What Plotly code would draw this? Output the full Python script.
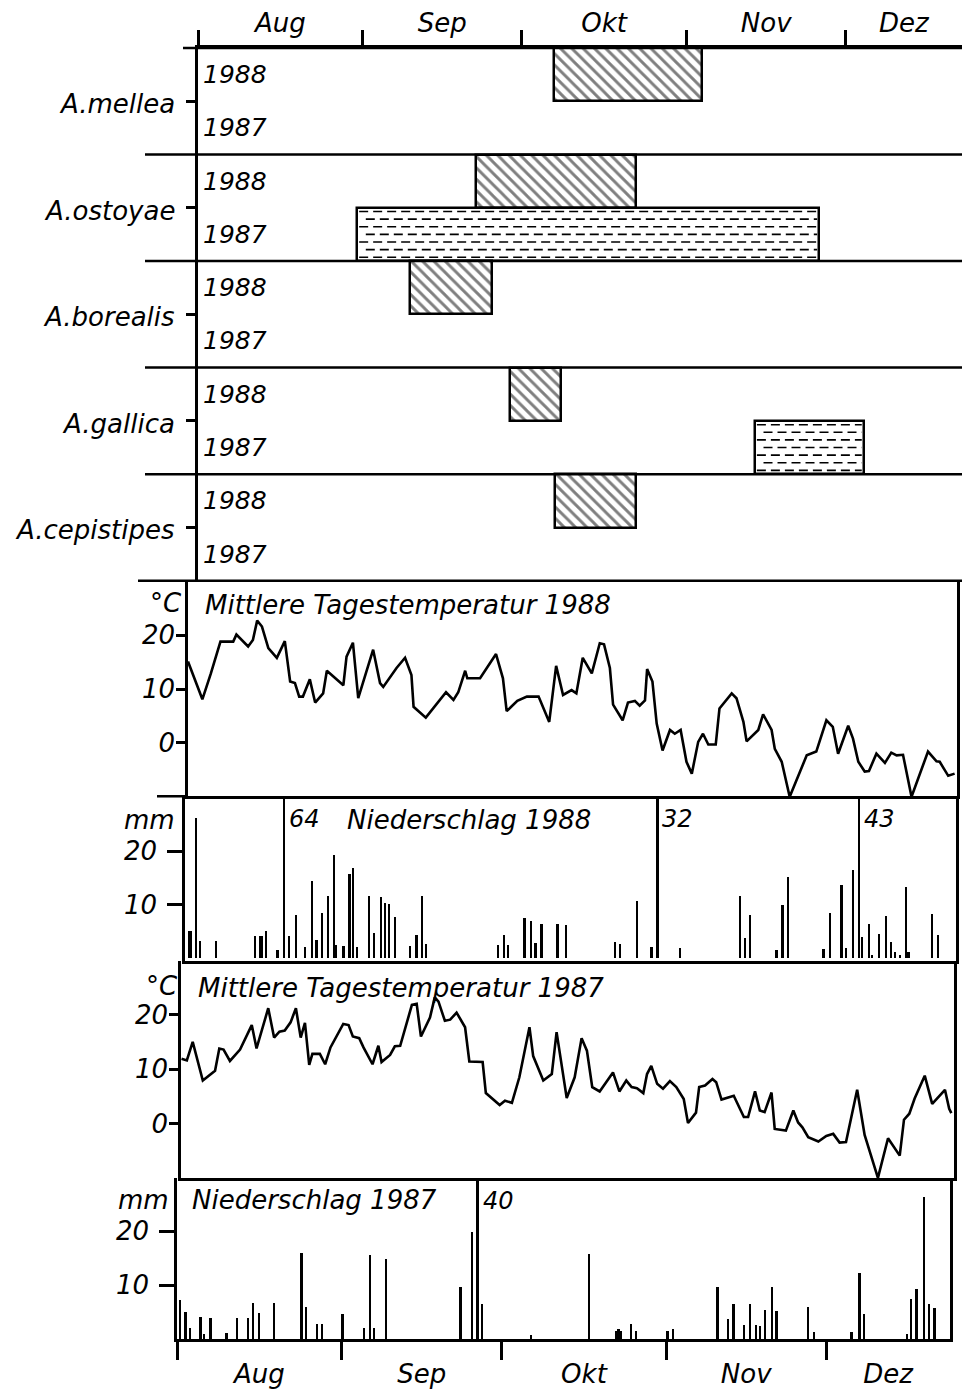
import plotly.graph_objects as go

# ---------------- data ----------------
months = ["Aug", "Sep", "Okt", "Nov", "Dez"]
month_start = [0, 31, 61, 92, 122]          # day index (0 = 1. Aug)

species = ["A.mellea", "A.ostoyae", "A.borealis", "A.gallica", "A.cepistipes"]
years = ["1988", "1987"]
fruit88_start = [67, 52.4, 40, 58.8, 67.2]
fruit88_end = [95, 82.5, 55.4, 68.4, 82.5]
fruit87_start = [None, 30, None, 104.9, None]
fruit87_end = [None, 117, None, 125.4, None]

temp88_day = [0, 2.7, 4.3, 6.1, 8.5, 9.1, 11.3, 12.2, 13, 13.9, 15.1, 16.7, 18.2, 19.2, 20.1, 20.9, 21.6,
              22.9, 23.9, 25.4, 26.1, 29.2, 29.8, 31, 32, 34.8, 36.1, 36.7, 39.2, 40.8, 42, 42.4, 44.7,
              46.7, 48.5, 49.9, 50.8, 52.1, 52.5, 54.9, 57.9, 59.2, 59.9, 61.9, 63.7, 65.9, 67.9, 69.2,
              70.5, 72.1, 73.0, 74.2, 75.9, 77.4, 78.2, 79.3, 79.9, 81.7, 82.7, 84, 84.9, 85.9, 86.3,
              87.3, 88.1, 89.2, 90.6, 91.5, 92.6, 93.7, 94.7, 95.9, 96.8, 97.8, 99.2, 99.9, 102.2, 103.1,
              104.4, 105, 107.2, 108.1, 109.7, 110.3, 111.6, 113.1, 116.3, 118.1, 120, 121.2, 122.2,
              124.1, 125, 126, 127.2, 128, 129.4, 131, 132.2, 133.2, 134.4, 136, 139.1, 140.7, 141.3,
              142.9, 144.1]
temp88_val = [15.1, 8.1, 12.9, 18.8, 18.8, 20.1, 17.9, 19.1, 22.7, 21.6, 17.6, 15.8, 18.9, 11.4, 11.1, 8.6,
              8.6, 11.8, 7.5, 9.2, 13.4, 10.7, 16.0, 18.6, 8.3, 17.3, 11.1, 10.4, 13.9, 15.8, 12.6, 6.7,
              4.7, 7.1, 9.4, 8.0, 9.4, 13.4, 12.0, 12.0, 16.5, 12.0, 5.9, 7.8, 8.6, 8.6, 3.9, 14.3, 8.9,
              9.8, 9.2, 15.8, 12.9, 18.5, 18.3, 13.9, 7.1, 4.2, 7.5, 7.8, 6.9, 7.9, 13.7, 11.4, 3.6,
              -1.4, 2.4, 1.7, 2.4, -3.5, -5.7, 0.2, 1.7, -0.3, -0.3, 6.4, 9.2, 8.3, 3.9, 0.3, 2.4, 5.3,
              2.4, -1.1, -3.5, -10, -2.3, -1.6, 4.2, 3.0, -2.0, 3.2, 0.8, -3.5, -5.3, -5.2, -2.0, -3.7,
              -1.8, -2.3, -2.2, -10, -1.6, -3.4, -3.5, -6.1, -5.7]

temp87_day = [0.1, 1.1, 2.2, 4.1, 6.4, 7.2, 8, 9.2, 11.1, 13.3, 14.2, 16.4, 17.5, 18.5, 19.5, 20.6, 21.6,
              22.5, 23.3, 24.1, 24.7, 26.1, 27.1, 28.1, 30.5, 31.5, 32.3, 33.5, 34.3, 36, 37.1, 37.7,
              39.3, 40.2, 41.2, 42.4, 43.4, 44.3, 45.1, 46.8, 47.7, 48.4, 49.6, 50.6, 51.8, 53.4, 54.2,
              56.7, 57.3, 59.9, 60.9, 62.2, 63.6, 65.5, 66.2, 68.1, 69.7, 70.6, 72.5, 74, 75.3, 76.3,
              77.3, 78.7, 81.2, 82.4, 83.7, 84.7, 85.7, 86.9, 87.6, 88.4, 89.5, 90.6, 91.9, 93.1, 94.5,
              95.3, 96.8, 97.4, 98.5, 99.9, 100.6, 101.6, 103.9, 105.8, 106.6, 107.9, 108.8, 109.7, 111,
              111.6, 113.7, 115.1, 116, 116.8, 117.9, 119.8, 121.3, 122.6, 123.8, 125, 127.1, 128.5, 131,
              132.9, 135.1, 135.9, 136.9, 137.9, 139.8, 141.2, 143.6, 144.4, 144.8]
temp87_val = [11.9, 11.6, 15.0, 7.9, 9.7, 13.8, 13.6, 11.5, 13.6, 18.1, 13.8, 21.2, 15.8, 16.9, 17.1, 18.6,
              21.2, 15.8, 18.5, 10.8, 12.8, 12.8, 10.9, 14.0, 18.3, 18.1, 16.0, 15.7, 14.0, 10.9, 14.3,
              11.3, 12.6, 14.2, 14.3, 18.3, 21.8, 22.0, 16.0, 19.5, 23.2, 22.4, 18.9, 19.1, 20.4, 17.7,
              11.4, 11.3, 5.6, 3.4, 4.2, 3.8, 8.5, 17.7, 12.4, 7.9, 9.1, 16.8, 4.7, 8.5, 15.7, 13.4, 6.7,
              5.9, 9.4, 5.9, 7.9, 6.7, 6.5, 5.6, 9.1, 10.6, 7.3, 6.4, 7.8, 6.7, 4.5, 0.1, 2.0, 6.7, 7.0,
              8.2, 7.6, 4.4, 5.1, 1.2, 1.2, 5.9, 2.4, 2.1, 5.7, -1.0, -1.3, 2.4, 0.2, -0.7, -2.5, -3.3,
              -2.3, -1.9, -3.5, -3.4, 6.2, -2.1, -10, -2.7, -5.9, 0.7, 1.8, 4.6, 8.8, 3.6, 6.2, 2.7, 1.9]

rain88_day = [0.75, 1.1, 2.1, 2.8, 5.8, 13.2, 14.1, 14.5, 15.2, 17.4, 18.6, 19.6, 20.9, 22.6, 23.9, 24.7,
              25.8, 26.9, 28, 28.4, 29.8, 30.9, 31.6, 32.3, 34.6, 35.5, 36.8, 37.6, 38.4, 39.5, 42.3,
              43.5, 44.6, 45.3, 58.9, 60, 60.7, 63.8, 65, 65.9, 67, 70, 71.6, 80.8, 81.7, 85, 87.7, 88.8,
              93.1, 104.3, 105.2, 106.2, 111.2, 112.3, 113.4, 120, 121.3, 123.4, 124.2, 125.6, 126.7,
              127.3, 128.6, 129.2, 130.5, 131.7, 132.7, 133.5, 134.4, 135.5, 136, 140.4, 141.6]
rain88_val = [5.2, 5.2, 26.2, 3.2, 3.2, 4.1, 4.1, 4.1, 5.1, 1.6, 64, 4.1, 8.1, 2.2, 14.4, 3.5, 8.4, 11.6,
              19.3, 2.6, 2.4, 15.7, 16.8, 2.1, 11.6, 4.8, 11.4, 10.4, 10.1, 7.7, 2.4, 4.3, 11.6, 2.7, 2.6,
              4.3, 2.6, 7.5, 7.0, 2.8, 6.5, 6.5, 6.2, 3.1, 2.7, 10.6, 2.1, 32, 1.9, 11.6, 3.8, 8.1, 1.6,
              9.9, 15.2, 1.7, 8.4, 13.6, 1.9, 16.4, 43, 4.0, 6.5, 0.7, 4.6, 7.9, 3.0, 1.3, 0.7, 13.3,
              1.3, 8.3, 4.4]

rain87_day = [0.6, 1.6, 2.4, 4.4, 5.1, 6.3, 9.3, 11.3, 13.4, 14.3, 15.4, 18.2, 23.4, 24.2, 26.3, 27.2,
              31.1, 35.2, 36.3, 37, 39.3, 53.3, 55.5, 56.5, 57.3, 66.5, 77.5, 82.5, 83, 83.4, 85.3, 86.3,
              92.2, 93.2, 101.6, 103.6, 104.6, 106.6, 107.7, 108.8, 109.6, 110.5, 111.9, 112.7, 118.6,
              119.8, 126.8, 128.3, 129.1, 137.2, 138, 139, 140.4, 141.4, 142.4]
rain87_val = [7.2, 5.0, 1.9, 4.1, 0.9, 3.8, 1.0, 3.8, 3.8, 6.6, 4.8, 6.7, 15.8, 5.8, 2.7, 2.7, 4.6, 1.9,
              15.5, 2.0, 14.8, 9.6, 19.7, 40, 6.5, 0.7, 15.7, 1.5, 1.7, 1.5, 2.7, 1.5, 1.5, 1.7, 9.6, 3.6,
              6.5, 2.5, 6.4, 2.5, 2.3, 5.4, 9.6, 5.2, 5.9, 1.3, 1.3, 12.2, 4.5, 0.8, 7.3, 9.3, 26.2, 6.5,
              5.6]

temp_ticks = [0, 10, 20]
rain_ticks = [10, 20]

# ---------------- layout helpers ----------------
W, H = 962, 1389
LW = 2.5
FONT = "DejaVu Sans"
PXDAY = 5.31


def px(x):
    return x / W


def py(y):
    return 1 - y / H


fig = go.Figure()

# ---- Gantt panel ----
GL = 198
G_TOP, G_BOT = 48, 582
gantt_range = (W - GL) / PXDAY
nsp = len(species)
dash_rows = 7
for i, sp in enumerate(species):
    top = 2 * (nsp - i)
    if fruit88_start[i] is not None:
        fig.add_trace(go.Bar(orientation="h", y=[top - 0.5], base=[fruit88_start[i]],
                             x=[fruit88_end[i] - fruit88_start[i]], width=[1],
                             marker=dict(color="white", line=dict(color="black", width=LW),
                                         pattern=dict(shape="\\", fgcolor="black", bgcolor="white",
                                                      size=8, solidity=0.36)),
                             xaxis="x", yaxis="y", hoverinfo="skip"))
    if fruit87_start[i] is not None:
        s, e = fruit87_start[i], fruit87_end[i]
        fig.add_trace(go.Bar(orientation="h", y=[top - 1.5], base=[s], x=[e - s], width=[1],
                             marker=dict(color="white", line=dict(color="black", width=LW)),
                             xaxis="x", yaxis="y", hoverinfo="skip"))
        # dashed fill of the 1987 bars
        for k in range(dash_rows):
            lev = top - 2 + (k + 0.5) / dash_rows
            shift = 0.35 if k % 2 == 0 else 1.6
            fig.add_trace(go.Scatter(x=[s + shift, e - 0.4], y=[lev, lev], mode="lines",
                                     line=dict(color="black", width=1.6, dash="9px,5px"),
                                     xaxis="x", yaxis="y", hoverinfo="skip"))

# ---- temperature lines ----
fig.add_trace(go.Scatter(x=temp88_day, y=temp88_val, mode="lines",
                         line=dict(color="black", width=2.6), xaxis="x2", yaxis="y2"))
fig.add_trace(go.Scatter(x=temp87_day, y=temp87_val, mode="lines",
                         line=dict(color="black", width=2.6), xaxis="x4", yaxis="y4"))

# ---- precipitation bars ----
fig.add_trace(go.Bar(x=rain88_day, y=rain88_val, width=0.42,
                     marker=dict(color="black", line=dict(width=0)), xaxis="x3", yaxis="y3"))
fig.add_trace(go.Bar(x=rain87_day, y=rain87_val, width=0.42,
                     marker=dict(color="black", line=dict(width=0)), xaxis="x5", yaxis="y5"))


# month tick labels in the middle of each (visible) month
def month_mids(rng):
    ends = month_start[1:] + [rng]
    return [(s + min(e, rng)) / 2 for s, e in zip(month_start, ends)]


common = dict(showgrid=False, zeroline=False, showline=True, linewidth=LW, linecolor="black")
tickfont = dict(family=FONT, size=26, color="black", style="italic")

# panel geometry (page pixels)
panels = {
    "t88": dict(l=188, r=957, top=582, bot=798, yr=[-9.9, 30.1]),
    "r88": dict(l=185, r=956, top=798, bot=963, yr=[-0.4, 30.2]),
    "t87": dict(l=181, r=954, top=963, bot=1181, yr=[-10.1, 29.9]),
    "r87": dict(l=177, r=950, top=1181, bot=1342, yr=[0, 29.8]),
}

layout = dict(
    width=W, height=H, margin=dict(l=0, r=0, t=0, b=0),
    paper_bgcolor="white", plot_bgcolor="white", showlegend=False, barmode="overlay",
    bargap=0,
    font=dict(family=FONT, size=26, color="black", style="italic"),
    xaxis=dict(domain=[px(GL), 1], range=[0, gantt_range], anchor="y", side="top",
               tickmode="array", tickvals=month_mids(gantt_range), ticktext=months, ticks="",
               tickfont=tickfont, ticklabelstandoff=3,
               minor=dict(tickmode="array", tickvals=month_start, ticks="outside", ticklen=15,
                          tickwidth=LW, tickcolor="black"),
               **common),
    yaxis=dict(domain=[py(G_BOT), py(G_TOP)], range=[0, 2 * nsp], anchor="x",
               tickmode="array", tickvals=[2 * k + 1 for k in range(nsp)], ticks="outside",
               ticklen=9, tickwidth=LW, tickcolor="black", showticklabels=False, **common),
)

names = ["t88", "r88", "t87", "r87"]
for k, nm in enumerate(names):
    p = panels[nm]
    rng = (p["r"] - p["l"]) / 5.32
    idx = k + 2
    xa = dict(domain=[px(p["l"]), px(p["r"])], range=[0, rng], anchor=f"y{idx}", mirror=False,
              **common)
    if nm == "r87":
        xa.update(tickmode="array", tickvals=month_mids(rng), ticktext=months, ticks="",
                  tickfont=tickfont, ticklabelstandoff=10,
                  minor=dict(tickmode="array", tickvals=month_start, ticks="outside", ticklen=18,
                             tickwidth=LW, tickcolor="black"))
    else:
        xa.update(showticklabels=False, ticks="")
    is_temp = nm.startswith("t")
    ya = dict(domain=[py(p["bot"]), py(p["top"])], range=p["yr"], anchor=f"x{idx}", mirror=True,
              tickmode="array", tickvals=temp_ticks if is_temp else rain_ticks,
              ticks="outside", ticklen=9 if is_temp else 15, tickwidth=LW, tickcolor="black",
              tickfont=tickfont, ticklabelstandoff=-4 if is_temp else 5, **common)
    layout[f"xaxis{idx}"] = xa
    layout[f"yaxis{idx}"] = ya

fig.update_layout(**layout)

# ---- separator lines (paper coordinates, not clipped) ----
shapes = []
for lev in range(0, 2 * nsp + 1, 2):
    x0 = 183 if lev == 2 * nsp else (138 if lev == 0 else 145)
    yp = py(G_BOT) + (py(G_TOP) - py(G_BOT)) * lev / (2 * nsp)
    shapes.append(dict(type="line", xref="paper", yref="paper", x0=px(x0), x1=1, y0=yp, y1=yp,
                       line=dict(color="black", width=LW)))
shapes.append(dict(type="line", xref="paper", yref="paper", x0=px(157), x1=px(188),
                   y0=py(798), y1=py(798), line=dict(color="black", width=LW)))
fig.update_layout(shapes=shapes)

# ---- annotations ----
ann = []
for i, sp in enumerate(species):
    top = 2 * (nsp - i)
    ann.append(dict(text=sp, x=px(177), y=top - 1, xref="paper", yref="y", xanchor="right",
                    yanchor="middle", yshift=-3, showarrow=False, font=dict(size=26)))
    for j, yr in enumerate(years):
        ann.append(dict(text=yr, x=px(201), y=top - 0.5 - j, xref="paper", yref="y",
                        xanchor="left", yanchor="middle", showarrow=False, font=dict(size=25)))

titles = [
    ("Mittlere Tagestemperatur 1988", 203, 606, "left"),
    ("°C", 184, 604, "right"),
    ("mm", 177, 822, "right"),
    ("Niederschlag 1988", 345, 822, "left"),
    ("Mittlere Tagestemperatur 1987", 196, 990, "left"),
    ("°C", 180, 988, "right"),
    ("mm", 171, 1203, "right"),
    ("Niederschlag 1987", 190, 1203, "left"),
]
for t, x, y, anc in titles:
    ann.append(dict(text=t, x=px(x), y=py(y), xref="paper", yref="paper", xanchor=anc,
                    yanchor="middle", showarrow=False, font=dict(size=26)))

# off-scale precipitation values
for days, vals, xa, ya, nm in [(rain88_day, rain88_val, "x3", "y3", "r88"),
                               (rain87_day, rain87_val, "x5", "y5", "r87")]:
    ytop = panels[nm]["yr"][1]
    for d, v in zip(days, vals):
        if v > ytop:
            ann.append(dict(text=str(v), x=d, y=ytop, xref=xa, yref=ya, xanchor="left",
                            yanchor="top", xshift=3, yshift=-7, showarrow=False,
                            font=dict(size=24)))

fig.update_layout(annotations=ann)

# the html page gets no body margin, so the figure fills the window exactly
fig.write_html("out.html", config={"displayModeBar": False},
               post_script="document.body.style.margin='0';document.body.style.overflow='hidden';")
